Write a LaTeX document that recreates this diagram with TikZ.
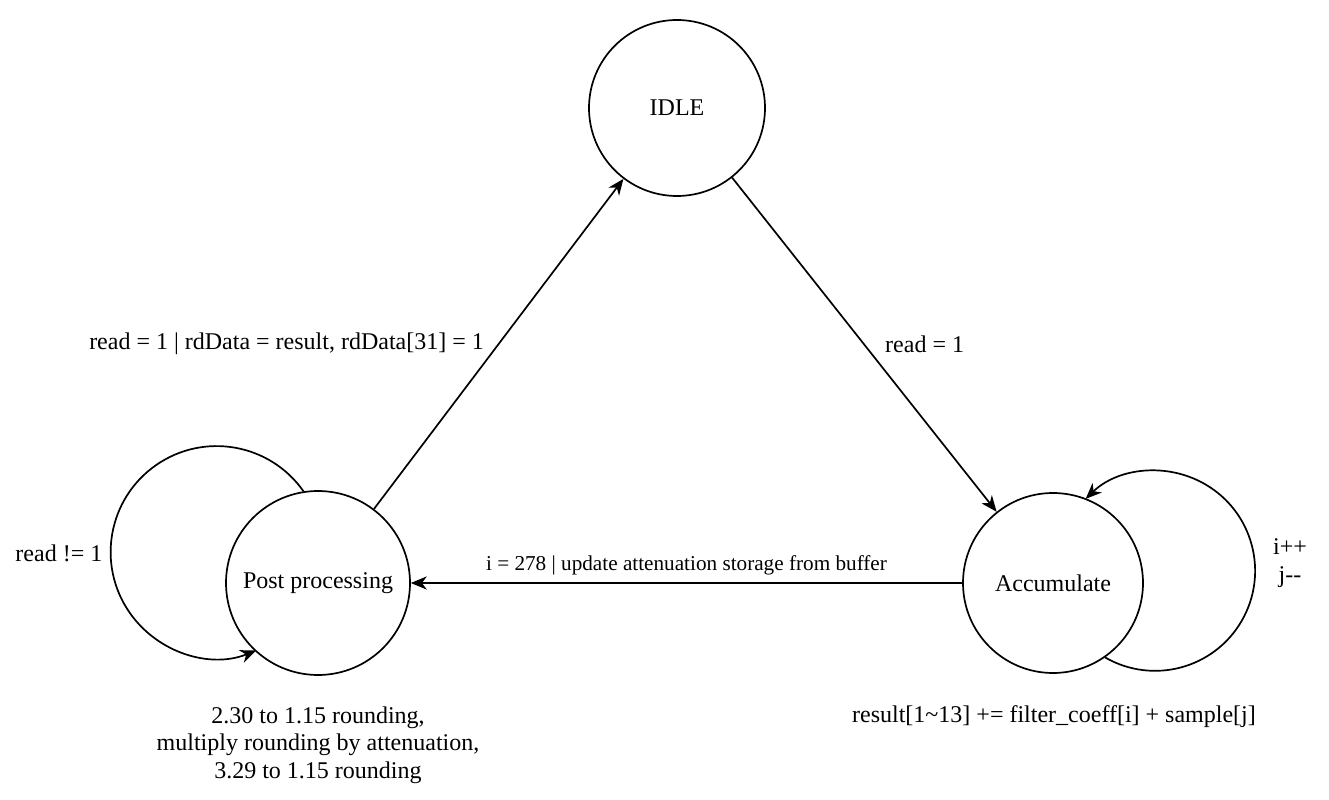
\documentclass[tikz,border=0pt]{standalone}
\usepackage{fontspec}
\setmainfont{Liberation Serif}
\usetikzlibrary{arrows.meta,automata,positioning}

\begin{document}
\begin{tikzpicture}[-{Stealth[length=8pt,width=6.6pt,inset=2.5pt]},x=0.5pt,y=0.5pt,
line width=0.85pt,font=\fontsize{12}{13.8}\selectfont]
\tikzstyle{every state}=[draw=black,fill=white,inner sep=0pt,text=black]
\tikzstyle{lbl}=[inner sep=0pt,align=center]
\useasboundingbox (0,0) rectangle (1329,799);

\node[state, minimum size=88pt] (idle) at (677,691) {IDLE};
\node[state, minimum size=92pt] (post) at (318,216) {Post processing};
\node[state, minimum size=90pt] (acc)  at (1053,216) {Accumulate};

\path (post) edge node[lbl, anchor=east, xshift=-7pt] {read = 1 | rdData = result, rdData[31] = 1} (idle)
(idle) edge node[lbl, anchor=west, xshift=10pt] {read = 1} (acc)
(acc) edge node[lbl, above=3.5pt, font=\fontsize{10.6}{12}\selectfont] {i = 278 | update attenuation storage from buffer} (post);

% self loops
\draw (post.99) arc[start angle=35, end angle=292, radius=53pt];
\draw (acc.305) arc[start angle=240, end angle=494, radius=50pt];

\node[lbl, left=61pt of post.west, yshift=15pt] (stay) {read != 1};
\node[lbl] (incr) at (1290,236) {i++\\ j-{}-};
\node[lbl] (accnote) at (1054,82) {result[1\textasciitilde 13] += filter\_coeff[i] + sample[j]};
\node[lbl] (postnote) at (318,54) {2.30 to 1.15 rounding,\\ multiply rounding by attenuation,\\ 3.29 to 1.15 rounding};

\end{tikzpicture}
\end{document}
